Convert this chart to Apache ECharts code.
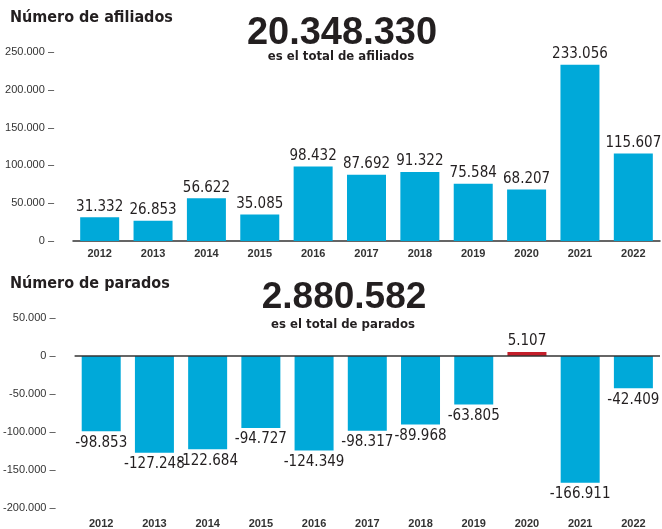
<!DOCTYPE html>
<html>
<head>
<meta charset="utf-8">
<script src="https://cdn.jsdelivr.net/npm/echarts@6/dist/echarts.min.js"></script>
<style>
html,body{margin:0;padding:0;background:#fff;}
#c{width:662px;height:529px;}
</style>
</head>
<body>
<div id="c"></div>
<script>
var years = ['2012','2013','2014','2015','2016','2017','2018','2019','2020','2021','2022'];
var afiliados = [31332, 26853, 56622, 35085, 98432, 87692, 91322, 75584, 68207, 233056, 115607];
var parados = [-98853, -127248, -122684, -94727, -124349, -98317, -89968, -63805, 5107, -166911, -42409];
var totalAfiliados = '20.348.330';
var totalParados = '2.880.582';

var NARROW = '"Liberation Sans Narrow", "DejaVu Sans Condensed", "Liberation Sans", sans-serif';
var SANS = '"Liberation Sans", Arial, sans-serif';
var BLUE = '#00a9d9';
var RED = '#c41e2a';
var INK = '#231f20';

function fmt(v){ return String(v).replace(/\B(?=(\d{3})+(?!\d))/g, '.'); }

var chart = echarts.init(document.getElementById('c'));

var yLabel = {
  fontFamily: SANS, fontSize: 11, color: '#333', margin: 19,
  formatter: function(v){ return fmt(v) + ' \u2013'; }
};

var option = {
  animation: false,
  graphic: [
    {type:'text', left: 10, top: 10, style:{text:'Número de afiliados', font:'bold 16px ' + NARROW, fill: INK}},
    {type:'text', x: 342, y: 34, style:{text: totalAfiliados, font:'bold 38px ' + SANS, fill: INK, textAlign:'center', textVerticalAlign:'middle'}},
    {type:'text', x: 341, y: 57, style:{text:'es el total de afiliados', font:'bold 13px ' + NARROW, fill: INK, textAlign:'center', textVerticalAlign:'middle'}},
    {type:'text', left: 10, top: 276, style:{text:'Número de parados', font:'bold 16px ' + NARROW, fill: INK}},
    {type:'text', x: 344, y: 298, style:{text: totalParados, font:'bold 37px ' + SANS, fill: INK, textAlign:'center', textVerticalAlign:'middle'}},
    {type:'text', x: 343, y: 325, style:{text:'es el total de parados', font:'bold 13px ' + NARROW, fill: INK, textAlign:'center', textVerticalAlign:'middle'}}
  ],
  grid: [
    {left: 73, right: 2, top: 52, height: 189},
    {left: 73, right: 2, top: 318, height: 190}
  ],
  xAxis: [
    {type:'category', gridIndex:0, data: years,
     axisLine:{show:true, lineStyle:{color:'#333', width:1.5}}, axisTick:{show:false},
     axisLabel:{fontFamily: SANS, fontWeight:'bold', fontSize:11, color:'#333', margin:7}},
    {type:'category', gridIndex:1, data: years, position:'bottom',
     axisLine:{show:false, onZero:false}, axisTick:{show:false},
     axisLabel:{fontFamily: SANS, fontWeight:'bold', fontSize:11, color:'#333', margin:10}}
  ],
  yAxis: [
    {type:'value', gridIndex:0, min:0, max:250000, interval:50000,
     axisLine:{show:false}, axisTick:{show:false}, splitLine:{show:false}, axisLabel: yLabel},
    {type:'value', gridIndex:1, min:-200000, max:50000, interval:50000,
     axisLine:{show:false}, axisTick:{show:false}, splitLine:{show:false}, axisLabel: yLabel}
  ],
  series: [
    {type:'bar', xAxisIndex:0, yAxisIndex:0, barWidth:39, data: afiliados,
     itemStyle:{color: BLUE},
     label:{show:true, position:'top', distance:3, fontFamily: NARROW, fontSize:15, color: INK,
            formatter: function(p){ return fmt(p.value); }}},
    {type:'bar', xAxisIndex:1, yAxisIndex:1, barWidth:39,
     data: parados.map(function(v){
       return {value: v, itemStyle:{color: v > 0 ? RED : BLUE},
               label:{position: v > 0 ? 'top' : 'bottom'}};
     }),
     label:{show:true, distance:4, fontFamily: NARROW, fontSize:15, color: INK,
            formatter: function(p){ return fmt(p.value); }},
     markLine:{silent:true, symbol:'none', label:{show:false},
               lineStyle:{color:'#333', width:1.5, type:'solid'},
               data:[{yAxis:0}]}}
  ]
};
chart.setOption(option);
</script>
</body>
</html>
